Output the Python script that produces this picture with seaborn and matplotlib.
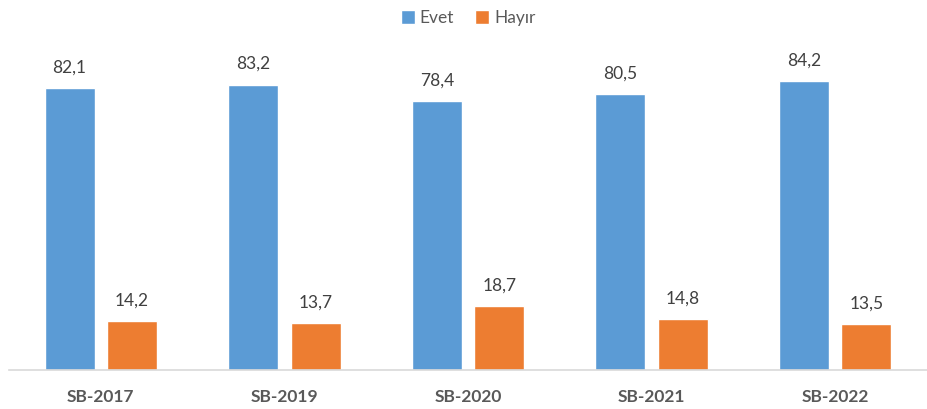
import pandas as pd
import matplotlib.pyplot as plt
import seaborn as sns

# -----------------------------------------
# Data
# -----------------------------------------

years = ["SB-2017", "SB-2019", "SB-2020", "SB-2021", "SB-2022"]
evet = [82.1, 83.2, 78.4, 80.5, 84.2]
hayir = [14.2, 13.7, 18.7, 14.8, 13.5]

df = pd.DataFrame({
    "year": years * 2,
    "answer": ["Evet"] * len(years) + ["Hayır"] * len(years),
    "value": evet + hayir,
})

sns.set_style("white")
plt.rcParams['font.family'] = ['Lato', 'DejaVu Sans']

fig = plt.figure(figsize=(9.28, 4.09), dpi=100)
ax = fig.add_axes([9 / 928, 39 / 409, 918 / 928, 343 / 409])

sns.barplot(
    data=df, x="year", y="value", hue="answer",
    palette={"Evet": "#5B9BD5", "Hayır": "#ED7D31"}, saturation=1,
    width=0.68, gap=0.2, ax=ax, legend=True,
)

for cont in ax.containers:
    ax.bar_label(cont, labels=[f"{v:.1f}".replace(".", ",") for v in cont.datavalues],
                 padding=9, fontsize=12.5, color="#404040")

ax.set_ylim(0, 100)
ax.set_xlim(-0.5, 4.5)
ax.set_xlabel("")
ax.set_ylabel("")
ax.set_yticks([])
for s in ["top", "right", "left"]:
    ax.spines[s].set_visible(False)
ax.spines["bottom"].set_color("#D9D9D9")
ax.spines["bottom"].set_linewidth(1.2)
ax.tick_params(axis="x", length=0, pad=14, labelsize=12.5, labelcolor="#595959")
for t in ax.get_xticklabels():
    t.set_fontweight("bold")

leg = ax.legend(loc="upper center", bbox_to_anchor=(0.5, 1.095), ncol=2, frameon=False,
                fontsize=12.5, handlelength=0.8, handleheight=0.8, handletextpad=0.3,
                columnspacing=1.2)
for t in leg.get_texts():
    t.set_color("#595959")

fig.savefig("out.png", dpi=100)
